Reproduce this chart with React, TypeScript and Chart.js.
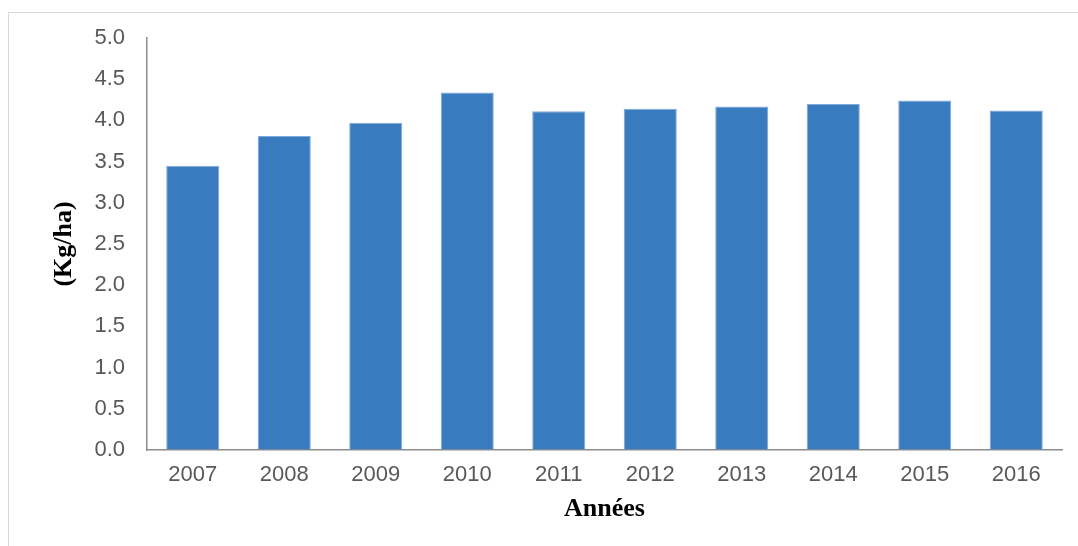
import React, { useEffect, useRef } from "react";
import { Chart, registerables } from "chart.js";

Chart.register(...registerables);

const years = ["2007", "2008", "2009", "2010", "2011", "2012", "2013", "2014", "2015", "2016"];
const values = [3.45, 3.81, 3.97, 4.34, 4.11, 4.14, 4.17, 4.2, 4.24, 4.12];
const yMin = 0;
const yMax = 5;
const yStep = 0.5;
const yTitle = "(Kg/ha)";
const xTitle = "Années";

export default function App() {
  const ref = useRef<HTMLCanvasElement | null>(null);

  useEffect(() => {
    if (!ref.current) return;
    const tickFont = { family: "'Liberation Sans', Arial, sans-serif", size: 22 };
    const titleFont = { family: "'Liberation Serif', 'Times New Roman', serif", size: 26, weight: "bold" as const };
    const chart = new Chart(ref.current, {
      type: "bar",
      data: {
        labels: years,
        datasets: [
          {
            data: values,
            backgroundColor: "#387cbf",
            borderColor: "#7fa9d8",
            borderWidth: 1,
            categoryPercentage: 1,
            barPercentage: 0.58,
          },
        ],
      },
      options: {
        animation: false,
        responsive: true,
        maintainAspectRatio: false,
        layout: { padding: { left: 40, right: 16, top: 25, bottom: 0 } },
        plugins: { legend: { display: false }, tooltip: { enabled: false } },
        scales: {
          x: {
            grid: { display: true, drawOnChartArea: false, drawTicks: false },
            border: { display: true, color: "#8c8c8c", width: 1.5 },
            ticks: { font: tickFont, color: "#595959", padding: 12 },
            title: { display: true, text: xTitle, font: titleFont, color: "#000", padding: { top: 0, bottom: 21 } },
            afterFit: (s: any) => {
              s.height = 96;
            },
          },
          y: {
            min: yMin,
            max: yMax,
            grid: { display: true, drawOnChartArea: false, drawTicks: false },
            border: { display: true, color: "#8c8c8c", width: 1.5 },
            ticks: {
              stepSize: yStep,
              font: tickFont,
              color: "#595959",
              padding: 22,
              callback: (v: any) => Number(v).toFixed(1),
            },
            title: { display: true, text: yTitle, font: titleFont, color: "#000", padding: { top: 0, bottom: 0 } },
            afterFit: (s: any) => {
              s.width = 98;
              s.paddingTop = 0;
              s.paddingBottom = 0;
            },
          },
        },
      },
    });
    return () => chart.destroy();
  }, []);

  return (
    <div
      style={{
        position: "fixed",
        left: 8,
        top: 12,
        right: 0,
        bottom: 0,
        borderTop: "1px solid #d9d9d9",
        borderLeft: "1px solid #d9d9d9",
        background: "#fff",
      }}
    >
      <canvas ref={ref} />
    </div>
  );
}
